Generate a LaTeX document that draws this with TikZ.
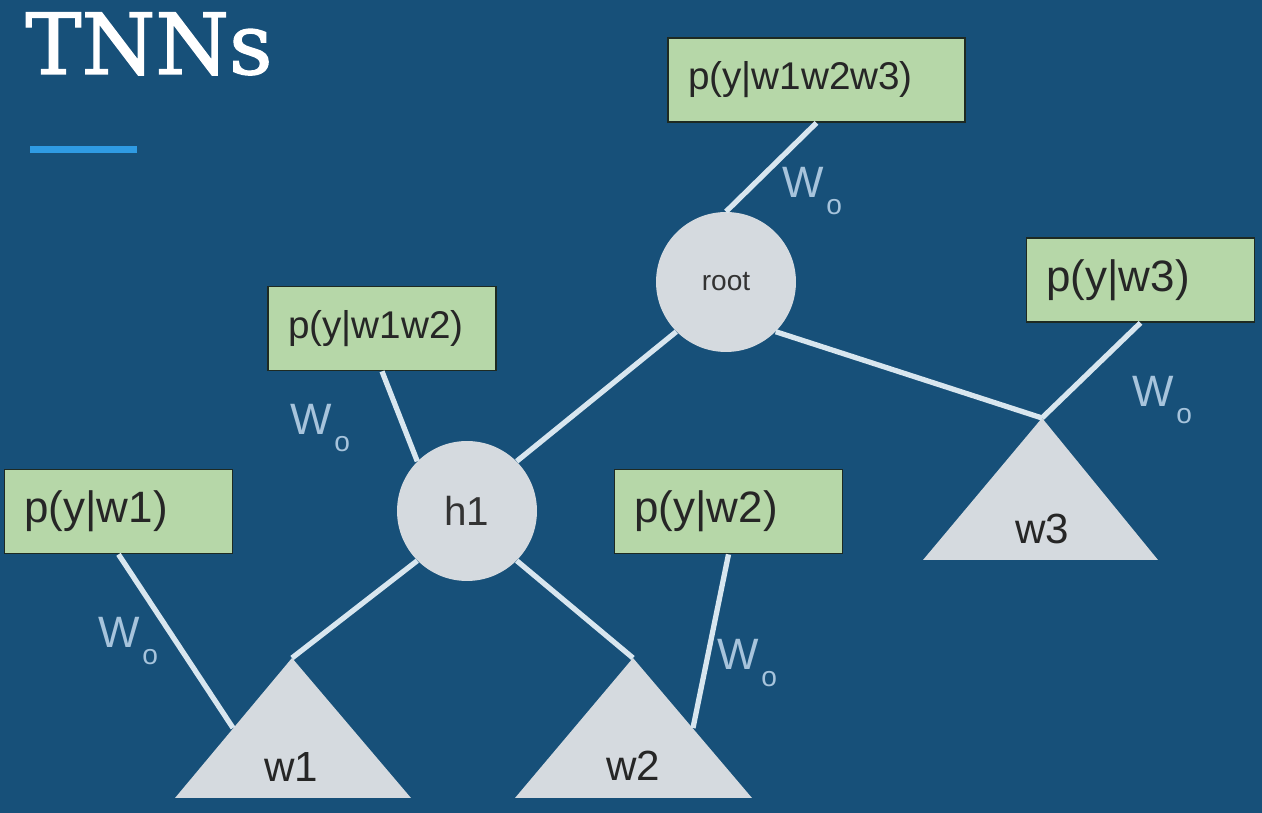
\documentclass[tikz,border=0pt]{standalone}
\usepackage{fontspec}
\setmainfont{Liberation Sans}
\newfontfamily\slabfont[FakeBold=1.6]{DejaVu Serif}
\definecolor{slidebg}{HTML}{175079}
\definecolor{accent}{HTML}{2F9BE3}
\definecolor{boxgreen}{HTML}{B6D7A8}
\definecolor{boxline}{HTML}{1E2A22}
\definecolor{nodegray}{HTML}{D5DADF}
\definecolor{edgecol}{HTML}{D8E6EF}
\definecolor{wcol}{HTML}{A7C4DC}
\newcommand\Wo{W\kern1.5pt\raisebox{-9.5pt}{\fontsize{16}{16}\selectfont o}}
\tikzset{
  pbox/.style={draw=boxline, line width=1pt, fill=boxgreen, text=black!85,
    font=\fontsize{25}{30}\selectfont, minimum height=1.68cm,
    inner xsep=0.4cm, text width=#1, align=left},
  pbox/.default=3.76cm,
  inner/.style={circle, fill=nodegray, minimum size=2.8cm, inner sep=0pt, text=black!80},
  leaf/.style={fill=nodegray},
  leaftext/.style={font=\fontsize{24}{28}\selectfont, text=black!85},
  edge/.style={draw=edgecol, line width=3pt},
  wlabel/.style={text=wcol, font=\fontsize{25}{30}\selectfont, anchor=base west, inner sep=0pt}
}
\begin{document}
\begin{tikzpicture}[x=0.02cm,y=-0.02cm]
  \fill[slidebg] (0,0) rectangle (1262,813);
  \node[anchor=base west, inner sep=0pt, text=white, font=\slabfont\fontsize{48}{56}\selectfont] (title) at (25,74) {TNNs};
  \fill[accent] (30,146) rectangle (137,153);

  % output boxes
  \node[pbox=5.14cm, font=\fontsize{22}{26}\selectfont] (ptop) at (816.5,80) {p(y|w1w2w3)};
  \node[pbox] (p3) at (1140.5,280) {p(y|w3)};
  \node[pbox, font=\fontsize{22}{26}\selectfont] (p12) at (382,328.5) {p(y|w1w2)};
  \node[pbox] (p1) at (118.5,511.5) {p(y|w1)};
  \node[pbox] (p2) at (728.5,511.5) {p(y|w2)};

  % inner nodes
  \node[inner, font=\fontsize{16}{20}\selectfont] (root) at (726,282) {root};
  \node[inner, font=\fontsize{23}{28}\selectfont] (h1) at (467,511) {h1};

  % leaves
  \fill[leaf] (175,798) -- (292,658) -- (411,798) -- cycle;
  \fill[leaf] (515,798) -- (633,658) -- (752,798) -- cycle;
  \fill[leaf] (923,560) -- (1042,418) -- (1158,560) -- cycle;
  \coordinate (w1tip) at (292,658);
  \coordinate (w1side) at (233,728);
  \coordinate (w2tip) at (633,658);
  \coordinate (w2side) at (693,728);
  \coordinate (w3tip) at (1042,418);
  \node[leaftext] (w1) at (291,767) {w1};
  \node[leaftext] (w2) at (633,766) {w2};
  \node[leaftext] (w3) at (1042,529) {w3};

  \draw[edge] (ptop.south) -- (root.north);
  \draw[edge] (root.south west) -- (h1.north east);
  \draw[edge] (root.south east) -- (w3tip);
  \draw[edge] (p3.south) -- (w3tip);
  \draw[edge] (p12.south) -- (h1.north west);
  \draw[edge] (h1.south west) -- (w1tip);
  \draw[edge] (h1.south east) -- (w2tip);
  \draw[edge] (p1.south) -- (w1side);
  \draw[edge] (p2.south) -- (w2side);

  % weight labels
  \node[wlabel] (wtop) at (782,198) {\Wo};
  \node[wlabel] (w3lab) at (1132,407) {\Wo};
  \node[wlabel] (w12lab) at (290,435) {\Wo};
  \node[wlabel] (w1lab) at (98,648) {\Wo};
  \node[wlabel] (w2lab) at (717,670) {\Wo};
\end{tikzpicture}
\end{document}
